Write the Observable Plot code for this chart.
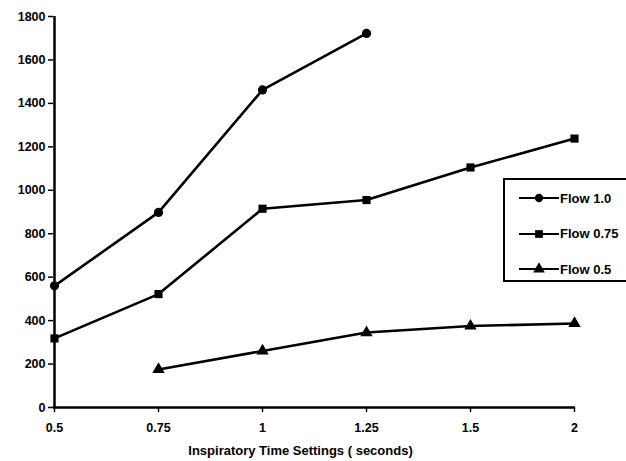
<!DOCTYPE html>
<html>
<head>
<meta charset="utf-8">
<script src="https://cdn.jsdelivr.net/npm/d3@7"></script>
<script src="https://cdn.jsdelivr.net/npm/@observablehq/plot@0.6"></script>
<style>
  html, body { margin: 0; padding: 0; background: #fff; overflow: hidden; }
  #wrap { position: relative; width: 626px; height: 461px; overflow: hidden; font-family: "Liberation Sans", Arial, sans-serif; }
  #legend { position: absolute; left: 503px; top: 178px; width: 150px; height: 104px; border: 2px solid #000; box-sizing: border-box; background: #fff; }
  .row { position: absolute; left: 14px; height: 20px; display: flex; align-items: center; font-weight: bold; font-size: 13px; color: #000; }
  .row svg { display: block; margin-right: 1px; }
</style>
</head>
<body>
<div id="wrap"></div>
<script>
const times = ["0.5", "0.75", "1", "1.25", "1.5", "2"];
const seriesNames = ["Flow 1.0", "Flow 0.75", "Flow 0.5"];
const flow10 = [560, 898, 1462, 1722, null, null];
const flow075 = [318, 522, 915, 955, 1105, 1238];
const flow05 = [null, 175, 260, 345, 375, 387];
const yTicks = [0, 200, 400, 600, 800, 1000, 1200, 1400, 1600, 1800];
const xLabel = "Inspiratory Time Settings ( seconds)";
const symbols = ["circle", "square", "triangle"];

const seriesValues = [flow10, flow075, flow05];
const data = [];
seriesValues.forEach((vals, si) => {
  vals.forEach((v, i) => {
    if (v != null) data.push({series: seriesNames[si], time: times[i], value: v});
  });
});

const font = "Liberation Sans, Arial, sans-serif";

const chart = Plot.plot({
  width: 626,
  height: 461,
  marginLeft: 53,
  marginRight: 51,
  marginTop: 16,
  marginBottom: 54,
  style: {fontFamily: font, fontSize: "12.5px", fontWeight: "bold", color: "#000", background: "#fff"},
  x: {type: "point", domain: times, padding: 0},
  y: {domain: [0, 1800]},
  symbol: {domain: seriesNames, range: symbols},
  marks: [
    Plot.axisY({ticks: yTicks, tickFormat: d3.format("d"), tickSize: 5, tickPadding: 3, label: null, strokeWidth: 1.5}),
    Plot.axisX({tickSize: 5, tickPadding: 11, label: null, strokeWidth: 1.5}),
    Plot.ruleY([0], {stroke: "#000", strokeWidth: 2.5}),
    Plot.ruleX([times[0]], {stroke: "#000", strokeWidth: 2.5}),
    Plot.line(data, {x: "time", y: "value", z: "series", stroke: "#000", strokeWidth: 2.6}),
    Plot.dot(data, {x: "time", y: "value", symbol: "series", fill: "#000", r: 4.6}),
    Plot.text([xLabel], {frameAnchor: "bottom", dy: 47, dx: -14, fontSize: 13, fontWeight: "bold", fill: "#000"})
  ]
});

const wrap = document.getElementById("wrap");
wrap.appendChild(chart);

// legend
const legend = document.createElement("div");
legend.id = "legend";
const symMap = {circle: d3.symbolCircle, square: d3.symbolSquare, triangle: d3.symbolTriangle};
const sizes = {circle: 55, square: 60, triangle: 60};
seriesNames.forEach((name, i) => {
  const row = document.createElement("div");
  row.className = "row";
  row.style.top = (8 + i * 35.5) + "px";
  const s = d3.create("svg").attr("width", 40).attr("height", 20);
  s.append("line").attr("x1", 0).attr("x2", 40).attr("y1", 10).attr("y2", 10).attr("stroke", "#000").attr("stroke-width", 2);
  s.append("path").attr("d", d3.symbol(symMap[symbols[i]], sizes[symbols[i]])()).attr("transform", "translate(20,10)").attr("fill", "#000");
  row.appendChild(s.node());
  const t = document.createElement("span");
  t.textContent = name;
  row.appendChild(t);
  legend.appendChild(row);
});
wrap.appendChild(legend);
</script>
</body>
</html>
